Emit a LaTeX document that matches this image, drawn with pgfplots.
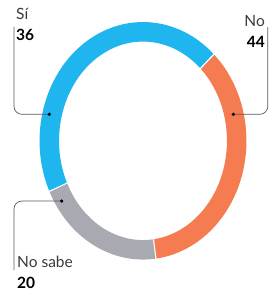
\documentclass[border=0pt]{standalone}
\usepackage{fontspec}
\setmainfont{Lato}
\usepackage{pgfplots}
\usepackage{pgfplotstable}
\pgfplotsset{compat=1.18}
\definecolor{cblue}{HTML}{1FB5EE}
\definecolor{corange}{HTML}{F47C50}
\definecolor{cgray}{HTML}{A9A9B1}
\definecolor{cline}{HTML}{5A5A5A}
\definecolor{ctext}{HTML}{3A3A3A}
% label, value shown, share of the ring as drawn (clockwise from 46.8 deg)
\pgfplotstableread{
label shown arc
No 44 36
NoSabe 20 20
Si 36 44
}\ringdata
\pgfplotstablegetelem{0}{arc}\of\ringdata \pgfmathsetmacro\aA{\pgfplotsretval}
\pgfplotstablegetelem{1}{arc}\of\ringdata \pgfmathsetmacro\aB{\pgfplotsretval}
\pgfplotstablegetelem{2}{arc}\of\ringdata \pgfmathsetmacro\aC{\pgfplotsretval}
\pgfmathsetmacro\sA{46.8}
\pgfmathsetmacro\sB{\sA-3.6*\aA}
\pgfmathsetmacro\sC{\sB-3.6*\aB}
\pgfmathsetmacro\sD{\sC-3.6*\aC}
\def\cx{143}\def\cy{152.2}\def\rx{93.7}\def\ry{109}
\pgfmathsetmacro\xA{\cx+\rx*cos(\sA)}\pgfmathsetmacro\yA{\cy+\ry*sin(\sA)}
\pgfmathsetmacro\xB{\cx+\rx*cos(\sB)}\pgfmathsetmacro\yB{\cy+\ry*sin(\sB)}
\pgfmathsetmacro\xC{\cx+\rx*cos(\sC)}\pgfmathsetmacro\yC{\cy+\ry*sin(\sC)}
% separator ends
\pgfmathsetmacro\pAi{\cx+(\rx-11)*cos(\sA)}\pgfmathsetmacro\qAi{\cy+(\ry-11)*sin(\sA)}
\pgfmathsetmacro\pAo{\cx+(\rx+11)*cos(\sA)}\pgfmathsetmacro\qAo{\cy+(\ry+11)*sin(\sA)}
\pgfmathsetmacro\pBi{\cx+(\rx-11)*cos(\sB)}\pgfmathsetmacro\qBi{\cy+(\ry-11)*sin(\sB)}
\pgfmathsetmacro\pBo{\cx+(\rx+11)*cos(\sB)}\pgfmathsetmacro\qBo{\cy+(\ry+11)*sin(\sB)}
\pgfmathsetmacro\pCi{\cx+(\rx-11)*cos(\sC)}\pgfmathsetmacro\qCi{\cy+(\ry-11)*sin(\sC)}
\pgfmathsetmacro\pCo{\cx+(\rx+11)*cos(\sC)}\pgfmathsetmacro\qCo{\cy+(\ry+11)*sin(\sC)}
\begin{document}
\begin{tikzpicture}
\begin{axis}[
  width=275pt, height=293pt, scale only axis,
  xmin=0, xmax=275, ymin=0, ymax=293,
  hide axis, clip=false,
]
\path (axis cs:0,0) rectangle (axis cs:275,293);
% ring segments
\draw[line width=19.5pt, draw=corange] (axis cs:\xA,\yA) arc[start angle=\sA, end angle=\sB, x radius=93.7pt, y radius=109pt];
\draw[line width=19.5pt, draw=cgray] (axis cs:\xB,\yB) arc[start angle=\sB, end angle=\sC, x radius=93.7pt, y radius=109pt];
\draw[line width=19.5pt, draw=cblue] (axis cs:\xC,\yC) arc[start angle=\sC, end angle=\sD, x radius=93.7pt, y radius=109pt];
% thin white separators
\draw[white, line width=1.1pt] (axis cs:\pAi,\qAi) -- (axis cs:\pAo,\qAo);
\draw[white, line width=1.1pt] (axis cs:\pBi,\qBi) -- (axis cs:\pBo,\qBo);
\draw[white, line width=1.1pt] (axis cs:\pCi,\qCi) -- (axis cs:\pCo,\qCo);
% leader lines
\draw[cline, line width=0.7pt, rounded corners=8pt] (axis cs:14,266.3) -- (axis cs:14,178.7) -- (axis cs:49.3,178.7);
\fill[black] (axis cs:49.3,178.7) circle[radius=1.8pt];
\draw[cline, line width=0.7pt, rounded corners=8pt] (axis cs:267.8,266) -- (axis cs:267.8,178.7) -- (axis cs:233.3,178.7);
\fill[black] (axis cs:233.3,178.7) circle[radius=1.8pt];
\draw[cline, line width=0.7pt, rounded corners=8pt] (axis cs:14,23) -- (axis cs:14,92) -- (axis cs:61.7,92);
\fill[black] (axis cs:61.7,92) circle[radius=1.8pt];
% labels
\node[anchor=base west, inner sep=0pt, text=ctext, font=\fontsize{15.5}{18}\selectfont] at (axis cs:16,274) {Sí};
\node[anchor=base west, inner sep=0pt, text=black, font=\fontsize{15.5}{18}\selectfont\bfseries] at (axis cs:16,253) {36};
\node[anchor=base east, inner sep=0pt, text=ctext, font=\fontsize{15.5}{18}\selectfont] at (axis cs:265,267) {No};
\node[anchor=base east, inner sep=0pt, text=black, font=\fontsize{15.5}{18}\selectfont\bfseries] at (axis cs:265,246) {44};
\node[anchor=base west, inner sep=0pt, text=ctext, font=\fontsize{15.5}{18}\selectfont] at (axis cs:17,26) {No sabe};
\node[anchor=base west, inner sep=0pt, text=black, font=\fontsize{15.5}{18}\selectfont\bfseries] at (axis cs:17,5) {20};
\end{axis}
\end{tikzpicture}
\end{document}
